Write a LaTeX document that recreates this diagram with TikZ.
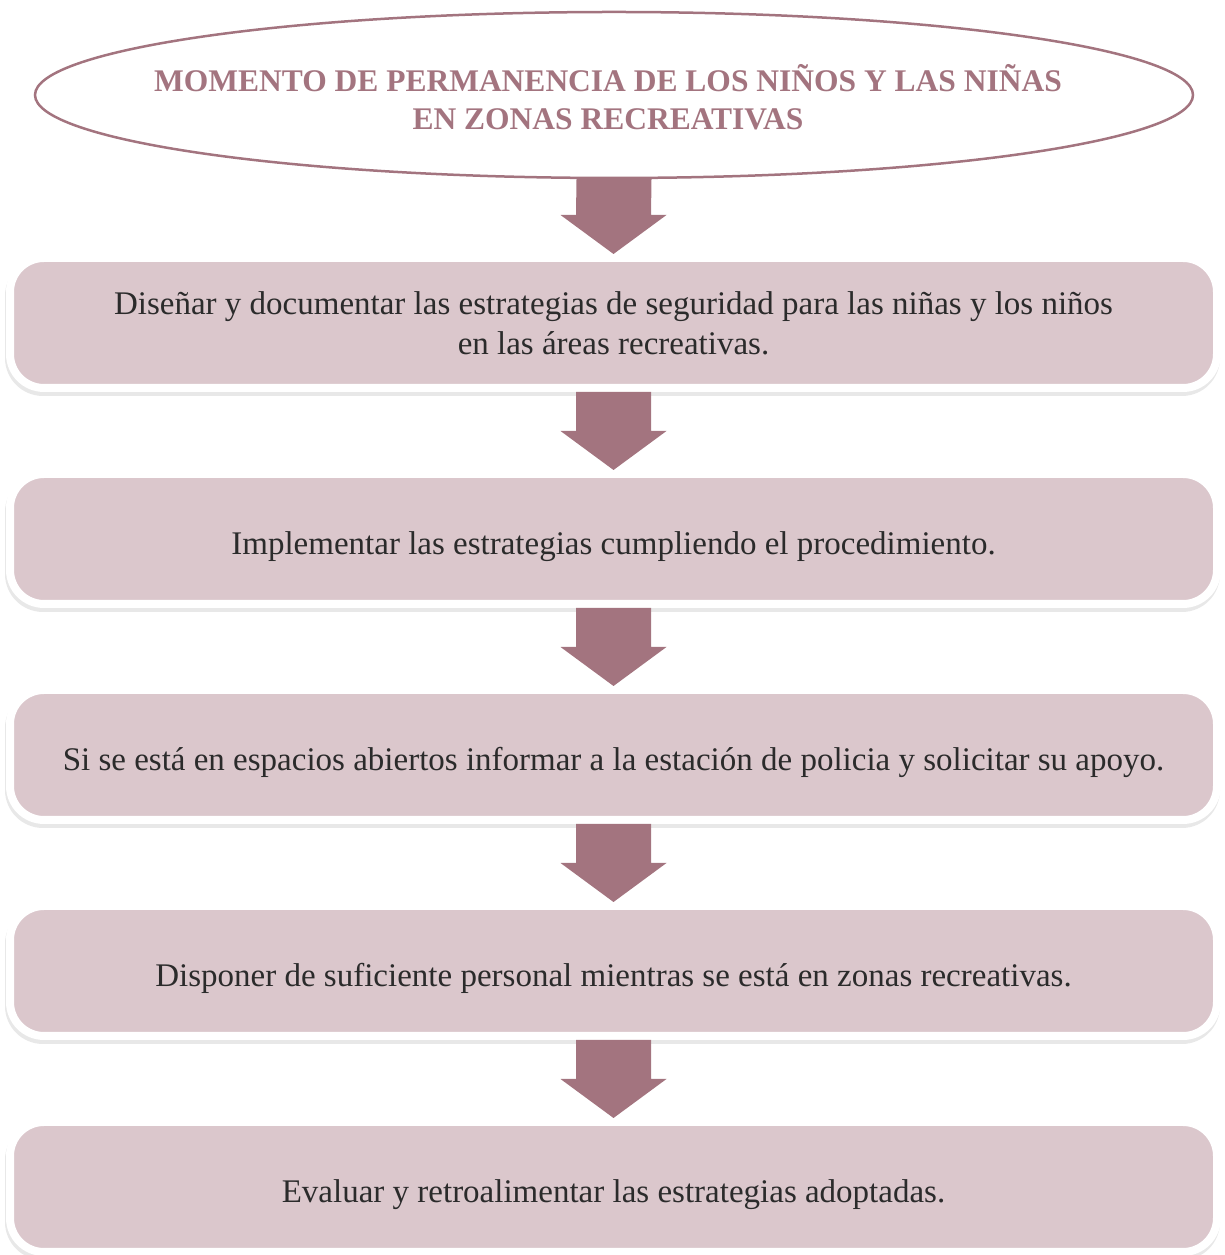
\documentclass[tikz,border=0pt]{standalone}
\usepackage{fontspec}
\setmainfont{Liberation Serif}
\usetikzlibrary{shapes.geometric,calc}
\definecolor{mauve}{HTML}{A3747F}
\definecolor{pinkbox}{HTML}{DBC7CC}
\definecolor{bodytext}{HTML}{2B2B2B}
\newcommand\flowarr[2]{%
  \fill[mauve] ($(#1.south)+(-37.5,0)$) -- ($(#1.south)+(37.5,0)$) --
    ($(#2.north)+(37.5,39)$) -- ($(#2.north)+(53,39)$) -- (#2.north) --
    ($(#2.north)+(-53,39)$) -- ($(#2.north)+(-37.5,39)$) -- cycle;}
\begin{document}
\begin{tikzpicture}[x=1pt,y=1pt,
  stepbox/.style={rectangle, rounded corners=34pt, minimum width=1207pt,
    minimum height=130pt, fill=pinkbox, draw=white, line width=8pt,
    align=center, text=bodytext, font=\fontsize{33}{40}\selectfont, inner sep=0pt,
    execute at begin node={\rule{0pt}{38pt}},
    preaction={draw=black!9, fill=black!9, line width=8pt,
      transform canvas={xshift=-1pt,yshift=-4pt}}},
  titletext/.style={align=center, text=mauve, inner sep=0pt,
    font=\bfseries\fontsize{31.5}{38}\selectfont}]
\useasboundingbox (0,0) rectangle (1225,1255);
\node[ellipse, draw=mauve, line width=2.5pt, minimum width=1158pt,
  minimum height=166pt, inner sep=0pt] (ell) at (614,1160) {};
\node[titletext] (title) at (608,1158)
  {MOMENTO DE PERMANENCIA DE LOS NIÑOS Y LAS NIÑAS\\EN ZONAS RECREATIVAS};
\node[stepbox] (b1) at (613.5,932) {Diseñar y documentar las estrategias de seguridad para las niñas y los niños\\en las áreas recreativas.};
\node[stepbox] (b2) at (613.5,716) {Implementar las estrategias cumpliendo el procedimiento.};
\node[stepbox] (b3) at (613.5,500) {Si se está en espacios abiertos informar a la estación de policia y solicitar su apoyo.};
\node[stepbox] (b4) at (613.5,284) {Disponer de suficiente personal mientras se está en zonas recreativas.};
\node[stepbox] (b5) at (613.5,68) {Evaluar y retroalimentar las estrategias adoptadas.};
\flowarr{ell}{b1}
\flowarr{b1}{b2}
\flowarr{b2}{b3}
\flowarr{b3}{b4}
\flowarr{b4}{b5}
\end{tikzpicture}
\end{document}
